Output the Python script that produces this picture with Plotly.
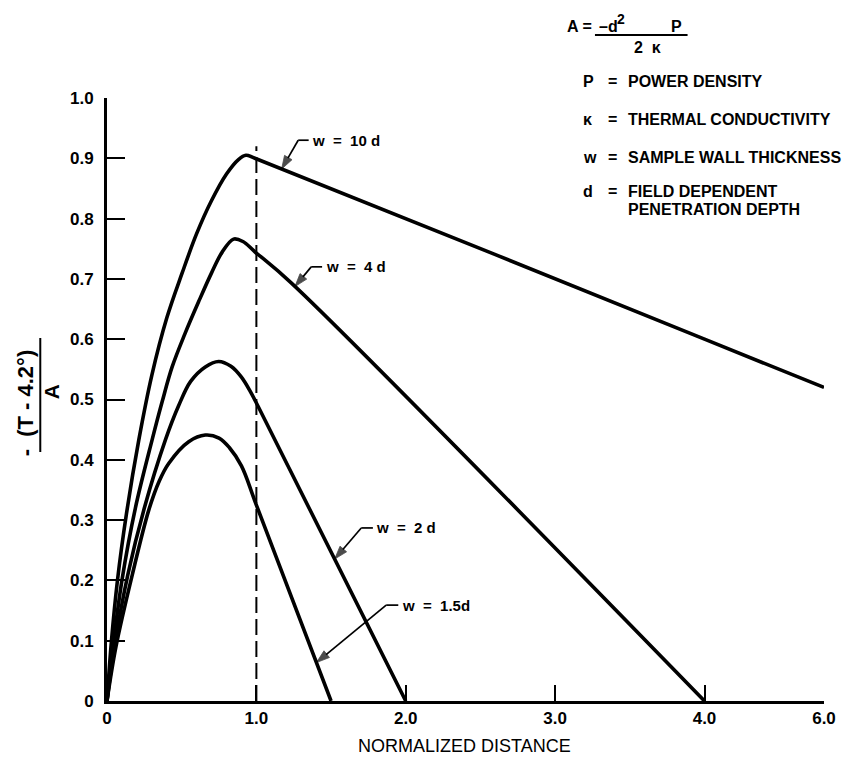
import numpy as np
import plotly.graph_objects as go

# ---- data (normalized distance, -(T-4.2)/A) ----
x_w10 = [0, 0.03, 0.07, 0.13, 0.213, 0.30, 0.40, 0.502, 0.60, 0.70, 0.80, 0.88, 0.93, 0.99, 4.0, 6.0]
y_w10 = [0, 0.10, 0.20, 0.31, 0.433, 0.54, 0.635, 0.709, 0.775, 0.83, 0.874, 0.898, 0.905, 0.900, 0.60, 0.52]

x_w4 = [0, 0.04, 0.10, 0.19, 0.302, 0.37, 0.436, 0.52, 0.613, 0.70, 0.77, 0.847, 0.91, 0.99, 1.235, 4.0]
y_w4 = [0, 0.09, 0.20, 0.32, 0.433, 0.497, 0.554, 0.608, 0.662, 0.71, 0.744, 0.766, 0.762, 0.745, 0.693, 0.0]

x_w2 = [0, 0.05, 0.14, 0.25, 0.391, 0.48, 0.56, 0.658, 0.747, 0.83, 0.90, 0.96, 1.013, 2.0]
y_w2 = [0, 0.09, 0.21, 0.32, 0.433, 0.49, 0.53, 0.554, 0.563, 0.555, 0.537, 0.513, 0.488, 0.0]

x_w15 = [0, 0.06, 0.17, 0.28, 0.35, 0.413, 0.547, 0.658, 0.75, 0.82, 0.90, 1.0, 1.5]
y_w15 = [0, 0.09, 0.21, 0.317, 0.365, 0.394, 0.43, 0.441, 0.436, 0.42, 0.39, 0.325, 0.0]

curve_labels = ["w = 10 d", "w = 4 d", "w = 2 d", "w = 1.5d"]
x_ticks = [0, 1.0, 2.0, 3.0, 4.0, 6.0]
x_tick_text = ["0", "1.0", "2.0", "3.0", "4.0", "6.0"]
y_ticks = [0, 0.1, 0.2, 0.3, 0.4, 0.5, 0.6, 0.7, 0.8, 0.9, 1.0]
y_tick_text = ["0", "0.1", "0.2", "0.3", "0.4", "0.5", "0.6", "0.7", "0.8", "0.9", "1.0"]

# the distance axis is compressed beyond 4.0
X_BREAK = 4.0
X_SQUEEZE = 0.4


def to_axis(x):
    x = np.asarray(x, dtype=float)
    return np.where(x <= X_BREAK, x, X_BREAK + (x - X_BREAK) * X_SQUEEZE)


FONT = "Liberation Sans"
W, H = 848, 762
L, R, T, B = 107, 21, 98, 61
PW, PH = W - L - R, H - T - B


def px_x(p):
    return (p - L) / PW


def px_y(p):
    return (H - B - p) / PH


fig = go.Figure()

series = [(x_w10, y_w10), (x_w4, y_w4), (x_w2, y_w2), (x_w15, y_w15)]
for xs, ys in series:
    fig.add_trace(go.Scatter(
        x=to_axis(xs), y=ys, mode="lines",
        line=dict(color="black", width=3.6, shape="spline", smoothing=1.0),
        hoverinfo="skip", showlegend=False,
    ))

# penetration depth marker at x = 1.0
fig.add_trace(go.Scatter(
    x=to_axis([1.0, 1.0]), y=[0, 0.92], mode="lines",
    line=dict(color="black", width=2, dash="16px,6px"),
    hoverinfo="skip", showlegend=False,
))

annotations = []
shapes = []

# curve labels with bent leaders: (tip x, bend x, bend y, label x)
leaders = [
    (1.169, 1.28, 0.930, 1.36),
    (1.258, 1.367, 0.720, 1.45),
    (1.524, 1.702, 0.287, 1.79),
    (1.402, 1.869, 0.159, 1.96),
]
for (xs, ys), label, (tip_x, bend_x, bend_y, text_x) in zip(series, curve_labels, leaders):
    tip_y = float(np.interp(tip_x, xs, ys))
    # diagonal leader ending in a filled arrowhead on the curve
    fig.add_trace(go.Scatter(
        x=to_axis([bend_x, tip_x]), y=[bend_y, tip_y], mode="lines+markers",
        line=dict(color="black", width=1.7),
        marker=dict(symbol=["circle", "arrow"], size=[0, 14], color="black",
                    angleref="previous", line=dict(width=0.8, color="black")),
        hoverinfo="skip", showlegend=False,
    ))
    shapes.append(dict(
        type="line", xref="x", yref="y",
        x0=float(to_axis(bend_x)), x1=float(to_axis(text_x)) - 0.01, y0=bend_y, y1=bend_y,
        line=dict(color="black", width=1.7),
    ))
    annotations.append(dict(
        x=float(to_axis(text_x)), y=bend_y, xref="x", yref="y",
        text=label.replace(" ", "\u00a0\u00a0").replace("\u00a0\u00a0d", "\u00a0d"),
        showarrow=False, xanchor="left", yanchor="middle",
        font=dict(family=FONT, size=15, color="black", weight="bold"),
    ))

# y-axis title drawn as a fraction
annotations.append(dict(
    x=px_x(25), y=px_y(403), xref="paper", yref="paper",
    text="-\u00a0\u00a0(T\u00a0-\u00a04.2°)",
    textangle=-90, showarrow=False, xanchor="center", yanchor="middle",
    font=dict(family=FONT, size=22, color="black", weight="bold"),
))
annotations.append(dict(
    x=px_x(51), y=px_y(392), xref="paper", yref="paper", text="A",
    textangle=-90, showarrow=False, xanchor="center", yanchor="middle",
    font=dict(family=FONT, size=21, color="black", weight="bold"),
))
shapes.append(dict(
    type="line", xref="paper", yref="paper",
    x0=px_x(40), x1=px_x(40), y0=px_y(338), y1=px_y(452),
    line=dict(color="black", width=2),
))

# x-axis title
annotations.append(dict(
    x=px_x(466), y=px_y(746), xref="paper", yref="paper", text="NORMALIZED DISTANCE",
    showarrow=False, xanchor="center", yanchor="middle",
    font=dict(family=FONT, size=18, color="black"),
))

# definition block
key_font = dict(family=FONT, size=16, color="black", weight="bold")
formula_parts = [
    ("A =", 567, 26, 16),
    ("\u2013d", 599, 26, 16),
    ("2", 617, 19, 14),
    ("P", 671, 26, 16),
]
for txt, xp, yp, sz in formula_parts:
    annotations.append(dict(
        x=px_x(xp), y=px_y(yp), xref="paper", yref="paper", text=txt,
        showarrow=False, xanchor="left", yanchor="middle",
        font=dict(family=FONT, size=sz, color="black", weight="bold"),
    ))
shapes.append(dict(
    type="line", xref="paper", yref="paper",
    x0=px_x(597), x1=px_x(690), y0=px_y(35), y1=px_y(35),
    line=dict(color="black", width=2),
))
annotations.append(dict(
    x=px_x(650), y=px_y(48), xref="paper", yref="paper", text="2\u00a0\u00a0\u03ba",
    showarrow=False, xanchor="center", yanchor="middle", font=key_font,
))

key_rows = [
    ("P", "POWER DENSITY", 82),
    ("\u03ba", "THERMAL CONDUCTIVITY", 120),
    ("w", "SAMPLE WALL THICKNESS", 157),
    ("d", "FIELD DEPENDENT", 192),
    ("", "PENETRATION DEPTH", 209),
]
for sym, desc, yp in key_rows:
    if sym:
        annotations.append(dict(
            x=px_x(583), y=px_y(yp), xref="paper", yref="paper", text=sym,
            showarrow=False, xanchor="left", yanchor="middle", font=key_font,
        ))
        annotations.append(dict(
            x=px_x(615), y=px_y(yp), xref="paper", yref="paper", text="=",
            showarrow=False, xanchor="center", yanchor="middle", font=key_font,
        ))
    annotations.append(dict(
        x=px_x(628), y=px_y(yp), xref="paper", yref="paper", text=desc,
        showarrow=False, xanchor="left", yanchor="middle", font=key_font,
    ))

tick_font = dict(family=FONT, size=17, color="black", weight="bold")
fig.update_layout(
    width=W, height=H,
    margin=dict(l=L, r=R, t=T, b=B),
    paper_bgcolor="white", plot_bgcolor="white",
    annotations=annotations, shapes=shapes,
    xaxis=dict(
        range=[0, float(to_axis(6.0))],
        tickvals=to_axis(x_ticks).tolist(), ticktext=x_tick_text,
        ticks="inside", ticklen=16, tickwidth=2, tickcolor="black",
        showline=True, linecolor="black", linewidth=3,
        showgrid=False, zeroline=False, tickfont=tick_font,
    ),
    yaxis=dict(
        range=[0, 1.0],
        tickvals=y_ticks, ticktext=y_tick_text,
        ticks="inside", ticklen=18, tickwidth=2, tickcolor="black",
        showline=True, linecolor="black", linewidth=3,
        showgrid=False, zeroline=False, tickfont=tick_font,
        ticklabelstandoff=7,
    ),
)

fig.write_html("out.html")
